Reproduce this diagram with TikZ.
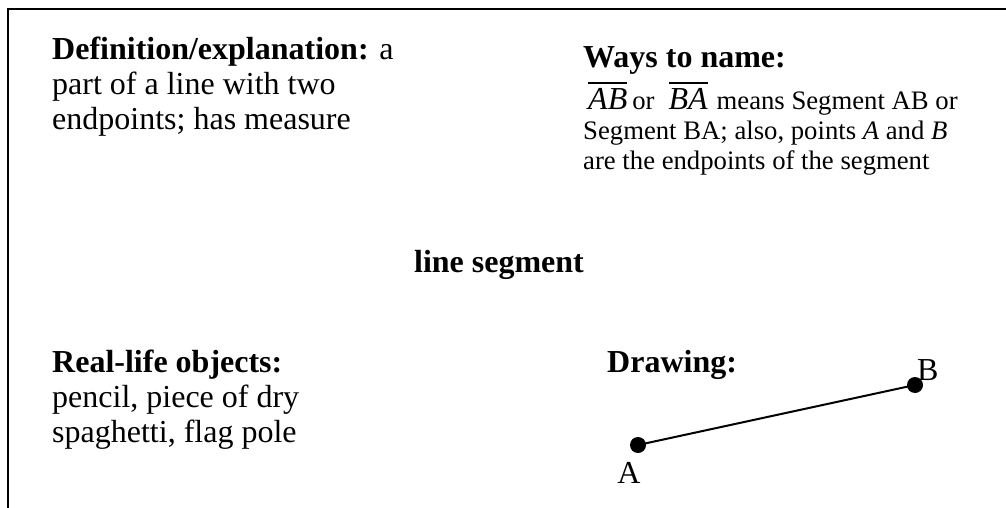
\documentclass[tikz,border=0pt]{standalone}
\usepackage{fontspec}
\setmainfont{Liberation Serif}
\newcommand\ovlseg[1]{\leavevmode\vbox{\hrule height 1.5pt\kern 4.5pt\hbox{\fontsize{32}{32}\selectfont\itshape #1}}}
\tikzset{
  big/.style={font=\fontsize{32}{35}\selectfont, inner sep=0pt},
  small/.style={font=\fontsize{26.7}{30}\selectfont, inner sep=0pt},
  para/.style={align=left, anchor=north west},
  dot/.style={circle, fill=black, inner sep=0pt, minimum size=16pt},
  frame/.style={line width=2pt},
  seg/.style={line width=2pt}
}
\begin{document}
\begin{tikzpicture}[x=1pt,y=-1pt]
\useasboundingbox (0,0) rectangle (1006,508);
\coordinate (f1) at (1006,9);
\coordinate (f2) at (7.7,9);
\coordinate (f3) at (7.7,508);
\draw[frame] (f1) -- (f2) -- (f3);

\node[big,para] (def) at (52,37) {\textbf{Definition/explanation:} a\\part of a line with two\\endpoints; has measure};

\node[big,anchor=base west] (ways) at (583,68) {\textbf{Ways to name:}};
\node[small,para] (waystext) at (583,82) {\hspace*{5pt}\ovlseg{AB}\hspace{5pt}or\hspace{14pt}\ovlseg{BA}\hspace{9pt}means Segment AB or\\Segment BA; also, points \textit{A} and \textit{B}\\are the endpoints of the segment};

\node[big,anchor=base] (title) at (499,272) {\textbf{line segment}};

\node[big,para] (real) at (52,350) {\textbf{Real-life objects:}\\pencil, piece of dry\\spaghetti, flag pole};

\node[big,anchor=base west] (drawing) at (607,372) {\textbf{Drawing:}};
\node[dot] (A) at (638,445) {};
\node[dot] (B) at (915,385) {};
\draw[seg] (A.center) -- (B.center);
\node[big,anchor=base] (labA) at (629,483) {A};
\node[big,anchor=base west] (labB) at (917,380) {B};
\end{tikzpicture}
\end{document}
